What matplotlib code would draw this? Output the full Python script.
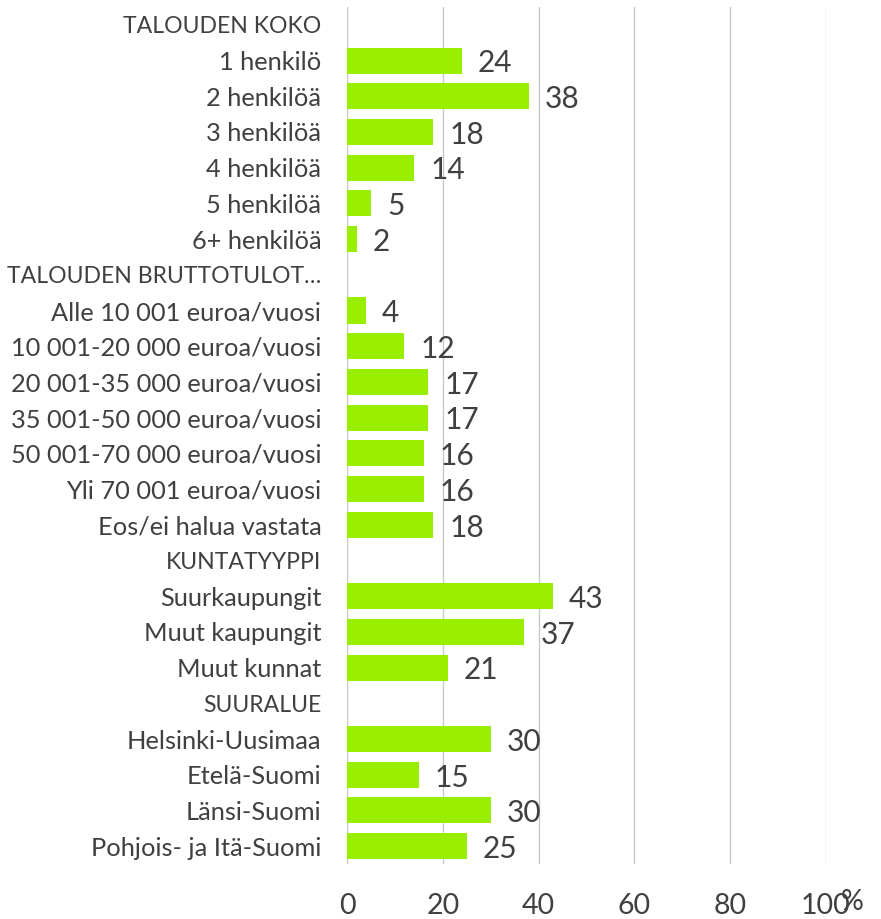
import matplotlib.pyplot as plt

# rows from top to bottom; None = group header (no bar)
labels = ['TALOUDEN KOKO', '1 henkilö', '2 henkilöä', '3 henkilöä', '4 henkilöä',
          '5 henkilöä', '6+ henkilöä',
          'TALOUDEN BRUTTOTULOT…', 'Alle 10 001 euroa/vuosi',
          '10 001-20 000 euroa/vuosi', '20 001-35 000 euroa/vuosi',
          '35 001-50 000 euroa/vuosi', '50 001-70 000 euroa/vuosi',
          'Yli 70 001 euroa/vuosi', 'Eos/ei halua vastata',
          'KUNTATYYPPI', 'Suurkaupungit', 'Muut kaupungit', 'Muut kunnat',
          'SUURALUE', 'Helsinki-Uusimaa', 'Etelä-Suomi', 'Länsi-Suomi',
          'Pohjois- ja Itä-Suomi']
values = [None, 24, 38, 18, 14, 5, 2,
          None, 4, 12, 17, 17, 16, 16, 18,
          None, 43, 37, 21,
          None, 30, 15, 30, 25]
xticks = [0, 20, 40, 60, 80, 100]

green = '#99EE00'
textc = '#404040'
plt.rcParams['font.family'] = ['Lato', 'DejaVu Sans']

fig = plt.figure(figsize=(8.81, 9.19), dpi=100)
ax = fig.add_axes([347 / 881, 1 - 864 / 919, (826 - 347) / 881, (864 - 7) / 919])

n = len(labels)
ypos = list(range(n))
for y, v in zip(ypos, values):
    if v is None:
        continue
    ax.barh(y, v, height=0.73, color=green, zorder=3)
    ax.annotate(str(v), (v, y), xytext=(11.5, -2), textcoords='offset points',
                ha='left', va='center', fontsize=21.5, color=textc)

ax.set_ylim(n - 0.5, -0.5)
ax.set_xlim(0, 100)
ax.set_yticks(ypos)
ax.set_yticklabels(labels, fontsize=18.3, color=textc)
# group headers: Lato capitals run wider than the original font
for lab, v in zip(ax.get_yticklabels(), values):
    if v is None:
        lab.set_fontsize(16.6)
ax.set_xticks(xticks)
ax.set_xticklabels([str(t) for t in xticks], fontsize=20.5, color=textc)
ax.tick_params(axis='y', length=0, pad=18.5)
ax.tick_params(axis='x', length=0, pad=21)
ax.grid(axis='x', color='#C8C8C8', linewidth=1, zorder=0)
for s in ax.spines.values():
    s.set_visible(False)

fig.text(852 / 881, 1 - 902 / 919, '%', fontsize=20.5, color=textc, ha='center', va='center')

fig.savefig('out.png', dpi=100)
